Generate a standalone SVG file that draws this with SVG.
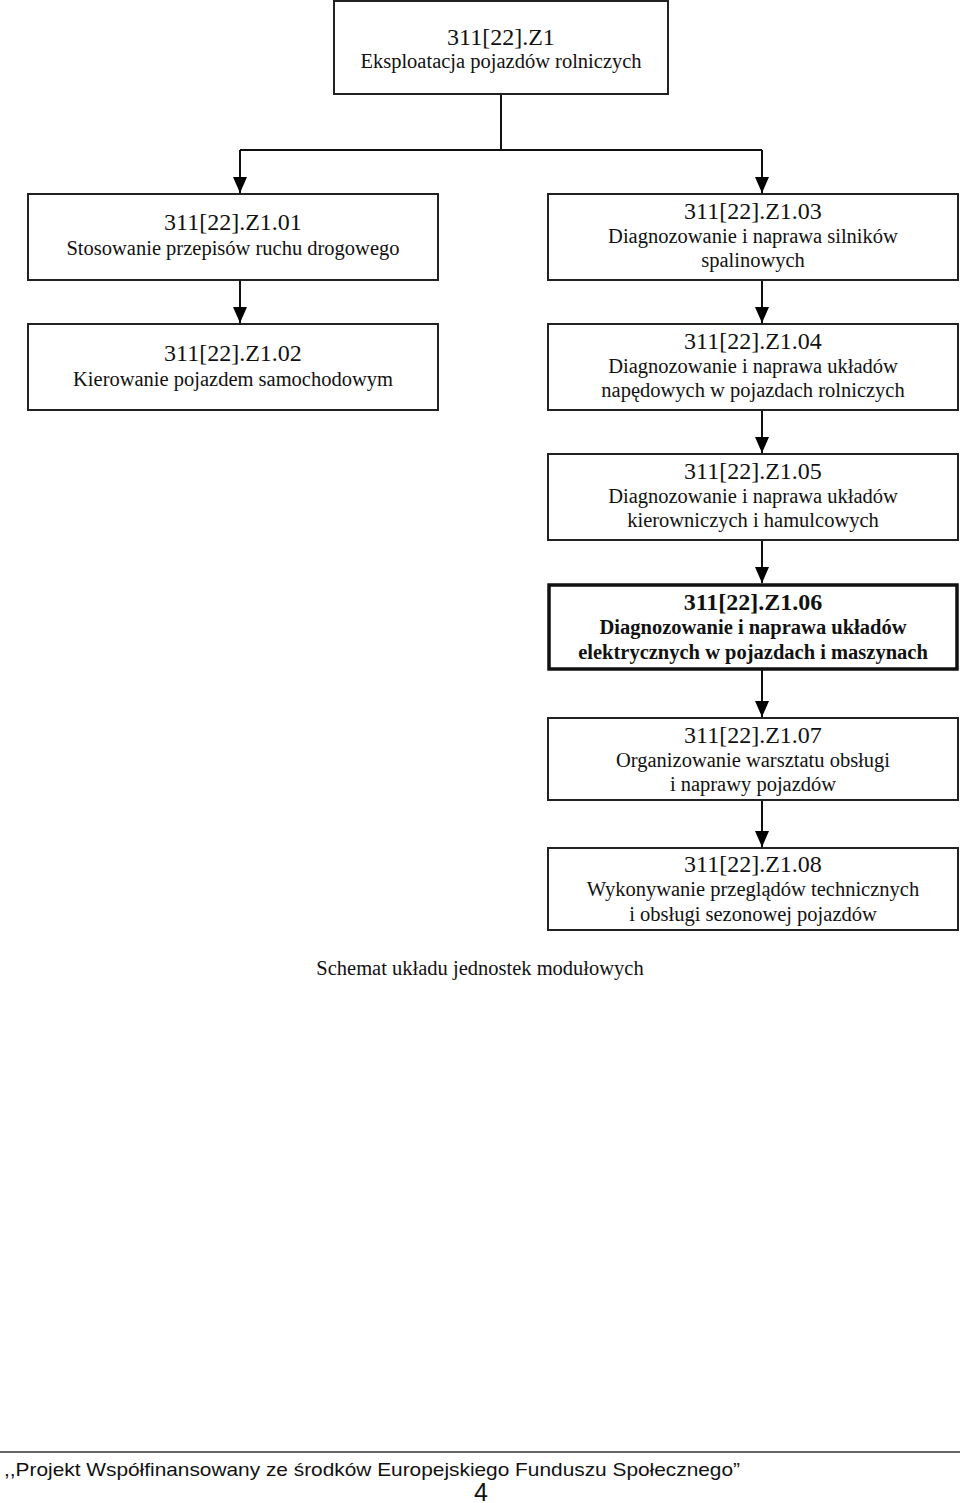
<svg xmlns="http://www.w3.org/2000/svg" width="960" height="1503" viewBox="0 0 960 1503">
<defs>
<marker id="ah" markerUnits="userSpaceOnUse" markerWidth="16" markerHeight="14" viewBox="0 0 16 14" refX="16" refY="7" orient="auto">
<path d="M0,0 L16,7 L0,14 Z" fill="#000"/>
</marker>
<style>
.box{fill:#fff;stroke:#222;stroke-width:2}
.boxb{fill:#fff;stroke:#111;stroke-width:3.5}
.t1{font-family:"Liberation Serif","Times New Roman",serif;font-size:24px;fill:#111;text-anchor:middle}
.t2{font-family:"Liberation Serif","Times New Roman",serif;font-size:20.5px;fill:#111;text-anchor:middle}
.b1{font-family:"Liberation Serif","Times New Roman",serif;font-size:24px;font-weight:bold;fill:#111;text-anchor:middle}
.b2{font-family:"Liberation Serif","Times New Roman",serif;font-size:20.5px;font-weight:bold;fill:#111;text-anchor:middle}
.c{fill:none;stroke:#111;stroke-width:2}
.foot{font-family:"Liberation Sans",Arial,sans-serif;fill:#111}
</style>
</defs>
<rect width="960" height="1503" fill="#fff"/>
<g id="connectors">
<polyline class="c" points="501,94 501,150"/>
<polyline class="c" points="240,150 762,150"/>
<line class="c" x1="240" y1="150" x2="240" y2="193" marker-end="url(#ah)"/>
<line class="c" x1="762" y1="150" x2="762" y2="193" marker-end="url(#ah)"/>
<line class="c" x1="240" y1="280" x2="240" y2="323" marker-end="url(#ah)"/>
<line class="c" x1="762" y1="280" x2="762" y2="323" marker-end="url(#ah)"/>
<line class="c" x1="762" y1="410" x2="762" y2="453" marker-end="url(#ah)"/>
<line class="c" x1="762" y1="540" x2="762" y2="583" marker-end="url(#ah)"/>
<line class="c" x1="762" y1="670" x2="762" y2="717" marker-end="url(#ah)"/>
<line class="c" x1="762" y1="800" x2="762" y2="847" marker-end="url(#ah)"/>
</g>
<g id="n0">
<rect class="box" x="334" y="1" width="334" height="93"/>
<text class="t1" x="501" y="45">311[22].Z1</text>
<text class="t2" x="501" y="68">Eksploatacja pojazdów rolniczych</text>
</g>
<g id="n01">
<rect class="box" x="28" y="194" width="410" height="86"/>
<text class="t1" x="233" y="230">311[22].Z1.01</text>
<text class="t2" x="233" y="255">Stosowanie przepisów ruchu drogowego</text>
</g>
<g id="n03">
<rect class="box" x="548" y="194" width="410" height="86"/>
<text class="t1" x="753" y="219">311[22].Z1.03</text>
<text class="t2" x="753" y="243">Diagnozowanie i naprawa silników</text>
<text class="t2" x="753" y="267">spalinowych</text>
</g>
<g id="n02">
<rect class="box" x="28" y="324" width="410" height="86"/>
<text class="t1" x="233" y="361">311[22].Z1.02</text>
<text class="t2" x="233" y="386">Kierowanie pojazdem samochodowym</text>
</g>
<g id="n04">
<rect class="box" x="548" y="324" width="410" height="86"/>
<text class="t1" x="753" y="349">311[22].Z1.04</text>
<text class="t2" x="753" y="373">Diagnozowanie i naprawa układów</text>
<text class="t2" x="753" y="397">napędowych w pojazdach rolniczych</text>
</g>
<g id="n05">
<rect class="box" x="548" y="454" width="410" height="86"/>
<text class="t1" x="753" y="479">311[22].Z1.05</text>
<text class="t2" x="753" y="503">Diagnozowanie i naprawa układów</text>
<text class="t2" x="753" y="527">kierowniczych i hamulcowych</text>
</g>
<g id="n06">
<rect class="boxb" x="549" y="585" width="408" height="84"/>
<text class="b1" x="753" y="610">311[22].Z1.06</text>
<text class="b2" x="753" y="634">Diagnozowanie i naprawa układów</text>
<text class="b2" x="753" y="659">elektrycznych w pojazdach i maszynach</text>
</g>
<g id="n07">
<rect class="box" x="548" y="718" width="410" height="82"/>
<text class="t1" x="753" y="743">311[22].Z1.07</text>
<text class="t2" x="753" y="767">Organizowanie warsztatu obsługi</text>
<text class="t2" x="753" y="791">i naprawy pojazdów</text>
</g>
<g id="n08">
<rect class="box" x="548" y="848" width="410" height="82"/>
<text class="t1" x="753" y="872">311[22].Z1.08</text>
<text class="t2" x="753" y="896">Wykonywanie przeglądów technicznych</text>
<text class="t2" x="753" y="921">i obsługi sezonowej pojazdów</text>
</g>
<text class="t2" x="480" y="975">Schemat układu jednostek modułowych</text>
<line x1="0" y1="1452" x2="960" y2="1452" stroke="#333" stroke-width="1.5"/>
<text class="foot" x="4" y="1476" font-size="19" textLength="736" lengthAdjust="spacingAndGlyphs">,,Projekt Współfinansowany ze środków Europejskiego Funduszu Społecznego”</text>
<text class="foot" x="481" y="1501" font-size="25" text-anchor="middle">4</text>
</svg>
